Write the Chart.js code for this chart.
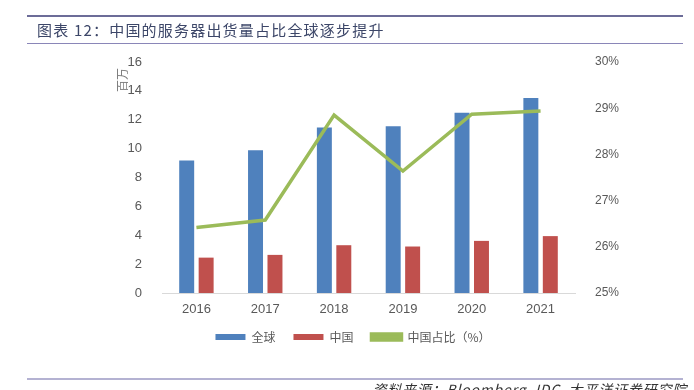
<!DOCTYPE html>
<html>
<head>
<meta charset="utf-8">
<script src="https://cdn.jsdelivr.net/npm/chart.js@4/dist/chart.umd.min.js"></script>
<style>
  html, body { margin: 0; padding: 0; background: #fff; }
  #wrap { position: relative; width: 694px; height: 390px; overflow: hidden; }
  #c { position: absolute; left: 0; top: 0; }
  .rule { position: absolute; left: 27px; width: 656px; }
  #title { position: absolute; left: 37px; top: 20px; font: 15px "Noto Sans CJK SC", sans-serif; color: #3c4668; letter-spacing: 1.2px; white-space: nowrap; line-height: 20px; }
  #unit { position: absolute; left: 110px; top: 73px; width: 24px; height: 14px; font: 12px "Noto Sans CJK SC", sans-serif; color: #7f7f7f; transform: rotate(-90deg); line-height: 14px; text-align: center; }
  #source { position: absolute; right: 7px; top: 380px; font: italic 14px "Noto Sans CJK SC", "Liberation Sans", sans-serif; color: #333; white-space: nowrap; letter-spacing: 0.8px; line-height: 18px; }
</style>
</head>
<body>
<div id="wrap">
  <canvas id="c" width="694" height="390"></canvas>
  <div class="rule" style="top:15px;height:2px;background:#6c6c98;"></div>
  <div id="title">图表 12：中国的服务器出货量占比全球逐步提升</div>
  <div class="rule" style="top:43px;height:1px;background:#8a86b8;"></div>
  <div id="unit">百万</div>
  <div class="rule" style="top:378px;height:2px;background:#b4b2d2;"></div>
  <div id="source">资料来源：Bloomberg, IDC, 太平洋证券研究院</div>
</div>
<script>
const categories = ['2016', '2017', '2018', '2019', '2020', '2021'];
const globalShipments = [9.17, 9.88, 11.46, 11.55, 12.48, 13.5];
const chinaShipments = [2.45, 2.64, 3.31, 3.22, 3.61, 3.94];
const chinaShare = [26.42, 26.58, 28.85, 27.64, 28.87, 28.94];
const leftTicks = [0, 2, 4, 6, 8, 10, 12, 14, 16];
const rightTicks = [25, 26, 27, 28, 29, 30];
const seriesNames = ['全球', '中国', '中国占比（%）'];

Chart.defaults.font.family = '"Liberation Sans", "Noto Sans CJK SC", sans-serif';
Chart.defaults.color = '#595959';

new Chart(document.getElementById('c'), {
  type: 'bar',
  data: {
    labels: categories,
    datasets: [
      { type: 'bar', label: seriesNames[0], data: globalShipments, backgroundColor: '#4f81bd', yAxisID: 'y', order: 2,
        categoryPercentage: 0.565, barPercentage: 0.77 },
      { type: 'bar', label: seriesNames[1], data: chinaShipments, backgroundColor: '#c0504d', yAxisID: 'y', order: 2,
        categoryPercentage: 0.565, barPercentage: 0.77 },
      { type: 'line', label: seriesNames[2], data: chinaShare, borderColor: '#9bbb59', backgroundColor: '#9bbb59',
        borderWidth: 3.5, pointRadius: 0, tension: 0, yAxisID: 'y1', order: 1, borderCapStyle: 'butt', borderJoinStyle: 'miter' }
    ]
  },
  options: {
    responsive: false,
    animation: false,
    devicePixelRatio: 1,
    layout: { padding: { top: 62, left: 12, right: 0, bottom: 37 } },
    plugins: {
      tooltip: { enabled: false },
      legend: {
        position: 'bottom',
        labels: {
          boxWidth: 30, boxHeight: 6, padding: 18,
          font: { size: 12, family: '"Noto Sans CJK SC", sans-serif' }, color: '#595959',
          sort: (a, b) => a.datasetIndex - b.datasetIndex
        }
      }
    },
    scales: {
      x: {
        grid: { display: false },
        border: { display: true, color: '#d9d9d9', width: 1 },
        ticks: { font: { size: 13 }, color: '#595959', padding: 1 },
        afterFit: s => { s.height = 20; }
      },
      y: {
        position: 'left', min: 0, max: 16,
        grid: { display: false }, border: { display: false },
        afterBuildTicks: s => { s.ticks = leftTicks.map(v => ({ value: v })); },
        ticks: { font: { size: 13 }, color: '#595959', padding: 12 },
        afterFit: s => { s.width = 150; }
      },
      y1: {
        position: 'right', min: 25, max: 30,
        grid: { display: false }, border: { display: false },
        afterBuildTicks: s => { s.ticks = rightTicks.map(v => ({ value: v })); },
        ticks: { font: { size: 12 }, color: '#595959', padding: 12, callback: v => v + '%' },
        afterFit: s => { s.width = 119; }
      }
    }
  }
});
</script>
</body>
</html>
